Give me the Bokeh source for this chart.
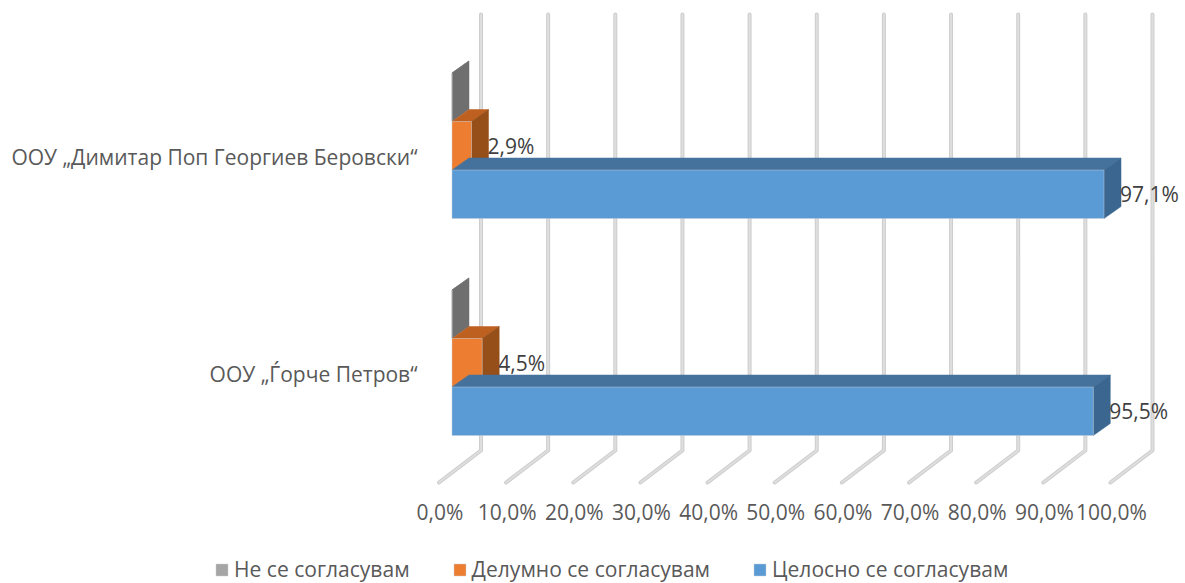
from bokeh.embed import file_html
from bokeh.resources import INLINE
from bokeh.plotting import figure
from bokeh.core.properties import value
from bokeh.models import Range1d, Legend, LegendItem

categories = ["ООУ „Ѓорче Петров“", "ООУ „Димитар Поп Георгиев Беровски“"]
series_names = ["Целосно се согласувам", "Делумно се согласувам", "Не се согласувам"]
full_agree = [95.5, 97.1]
part_agree = [4.5, 2.9]
no_agree = [0.0, 0.0]
full_labels = ["95,5%", "97,1%"]
part_labels = ["4,5%", "2,9%"]
tick_values = [0, 10, 20, 30, 40, 50, 60, 70, 80, 90, 100]
tick_labels = ["0,0%", "10,0%", "20,0%", "30,0%", "40,0%", "50,0%", "60,0%", "70,0%", "80,0%", "90,0%", "100,0%"]

FONT = value("Open Sans")
W, H = 1185, 583
PX_PER_PCT = 6.715
PX_PER_ROW = 217.0
ZERO_X, ZERO_Y = 451.5, 435


def ux(px):
    return px / PX_PER_PCT


def uy(px):
    return px / PX_PER_ROW


x_range = Range1d(ux(0 - ZERO_X), ux(W - ZERO_X))
y_range = Range1d(uy(ZERO_Y - H), uy(ZERO_Y))

p = figure(width=W, height=H, x_range=x_range, y_range=y_range, output_backend="svg",
           toolbar_location=None, x_axis_location=None, y_axis_location=None,
           min_border=0, outline_line_color=None,
           background_fill_color="white", border_fill_color="white")
p.grid.visible = False

# back wall + floor grid lines
back_dx, back_top, back_bot = ux(29), uy(ZERO_Y - 14), uy(ZERO_Y - 450)
floor_dx, floor_y = ux(-13), uy(ZERO_Y - 482)
xs = [[t + back_dx, t + back_dx, t + floor_dx] for t in tick_values]
ys = [[back_top, back_bot, floor_y] for _ in tick_values]
p.multi_line(xs, ys, line_color="#CDCDCD", line_width=4, line_cap="round", line_join="round")
p.multi_line(xs, ys, line_color="#DEDEDE", line_width=2, line_cap="round", line_join="round")

DEPTH_X, DEPTH_Y = ux(17), uy(12)
BAND = uy(48.5)
EDGE = "#C8CDD2"


def bar3d(lo, hi, row_y, front, top, side):
    """draw side and top faces; return the front face renderer"""
    sx, sy, tx, ty = [], [], [], []
    for l, h, y in zip(lo, hi, row_y):
        sx.append([h, h + DEPTH_X, h + DEPTH_X, h])
        sy.append([y, y + DEPTH_Y, y + BAND + DEPTH_Y, y + BAND])
        tx.append([l, l + DEPTH_X, h + DEPTH_X, h])
        ty.append([y + BAND, y + BAND + DEPTH_Y, y + BAND + DEPTH_Y, y + BAND])
    p.patches(tx, ty, fill_color=top, line_color=top, line_width=0.5)
    p.patches(sx, sy, fill_color=side, line_color=side, line_width=0.5)
    return p.quad(left=lo, right=hi, bottom=row_y, top=[y + BAND for y in row_y],
                  fill_color=front, line_color=EDGE, line_alpha=0.45, line_width=1)


rows = list(range(len(categories)))
blue_y = list(rows)
orange_y = [r + BAND for r in rows]
gray_y = [r + 2 * BAND for r in rows]
zeros = [0.0] * len(rows)

r_gray = bar3d(zeros, no_agree, gray_y, "#A5A5A5", "#6F6F6F", "#6F6F6F")
r_orange = bar3d(zeros, part_agree, orange_y, "#ED7D31", "#BE6020", "#964F18")
r_blue = bar3d(zeros, full_agree, blue_y, "#5B9BD5", "#44729D", "#3A668F")

# data labels
common = dict(text_font=FONT, text_font_size="21px", text_color="#404040",
              text_baseline="middle", text_align="left")
label_gap = ux(16)
p.text([v + label_gap for v in full_agree], [y + BAND / 2 for y in blue_y], text=full_labels, **common)
p.text([v + label_gap for v in part_agree], [y + BAND / 2 for y in orange_y], text=part_labels, **common)

# value tick labels under the floor
p.text([t + ux(-12) for t in tick_values], [uy(ZERO_Y - 511)] * len(tick_values), text=tick_labels,
       text_font=FONT, text_font_size="21px", text_color="#595959",
       text_baseline="middle", text_align="center")

# category labels
p.text([ux(417 - ZERO_X)] * len(categories), [r + uy(62) for r in rows], text=categories,
       text_font=FONT, text_font_size="21px", text_color="#595959",
       text_baseline="middle", text_align="right")

legend = Legend(items=[LegendItem(label=series_names[2], renderers=[r_gray]),
                       LegendItem(label=series_names[1], renderers=[r_orange]),
                       LegendItem(label=series_names[0], renderers=[r_blue])],
                orientation="horizontal", location=(214, 0),
                border_line_color=None, background_fill_alpha=0,
                padding=0, margin=0, spacing=42, glyph_width=15, glyph_height=15,
                label_standoff=5, label_text_font="Open Sans", label_text_font_size="21.05px",
                label_text_color="#595959", label_height=24)
p.add_layout(legend)

open("out.html", "w").write(file_html(p, INLINE))
